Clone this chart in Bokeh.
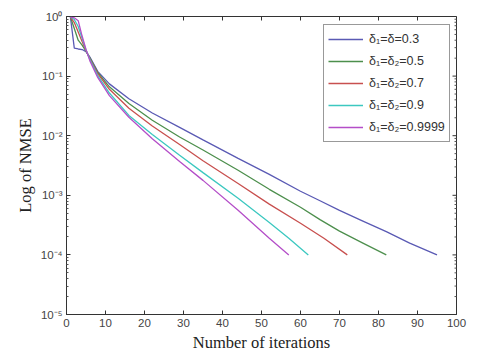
import math
from bokeh.plotting import figure
from bokeh.models import Legend, LegendItem, FixedTicker, CustomJSTickFormatter, Range1d
from bokeh.embed import file_html
from bokeh.resources import INLINE

# data (iteration, NMSE)
x_03 = [1, 2, 3, 4, 5, 6, 8, 11, 16, 22, 29, 35, 44, 52, 60, 65, 70, 76, 82, 88, 95]
y_03 = [0.98, 0.295, 0.285, 0.279, 0.257, 0.209, 0.120, 0.0741, 0.0417, 0.0240, 0.0138, 0.00851,
        0.00417, 0.00224, 0.00117, 8.1e-4, 5.6e-4, 3.7e-4, 2.45e-4, 1.58e-4, 1.0e-4]
x_05 = [1, 2, 3, 4, 5, 6, 8, 11, 16, 22, 29, 35, 44, 52, 60, 65, 70, 76, 82]
y_05 = [0.98, 0.63, 0.40, 0.33, 0.263, 0.20, 0.115, 0.066, 0.0347, 0.0182, 0.0095, 0.00575,
        0.00263, 0.00126, 6.3e-4, 3.9e-4, 2.5e-4, 1.58e-4, 1.0e-4]
x_07 = [1, 2, 3, 4, 5, 6, 8, 11, 16, 22, 29, 35, 44, 52, 60, 66, 72]
y_07 = [0.98, 0.79, 0.55, 0.38, 0.269, 0.195, 0.110, 0.060, 0.0288, 0.0145, 0.0071, 0.0038,
        0.00158, 7.1e-4, 3.4e-4, 1.9e-4, 1.0e-4]
x_09 = [1, 2, 3, 4, 5, 6, 8, 11, 16, 22, 29, 35, 44, 52, 57, 62]
y_09 = [0.98, 0.89, 0.68, 0.43, 0.275, 0.19, 0.102, 0.052, 0.0219, 0.0105, 0.0047, 0.0024,
        8.9e-4, 3.5e-4, 1.9e-4, 1.0e-4]
x_99 = [1, 2, 3, 4, 5, 6, 8, 11, 16, 22, 29, 35, 44, 52, 57]
y_99 = [0.98, 0.95, 0.85, 0.47, 0.28, 0.18, 0.095, 0.047, 0.0204, 0.0089, 0.0037, 0.00178,
        5.6e-4, 1.9e-4, 1.0e-4]

labels = ["δ₁=δ=0.3", "δ₁=δ₂=0.5", "δ₁=δ₂=0.7", "δ₁=δ₂=0.9", "δ₁=δ₂=0.9999"]
colors = ["#5a5ab4", "#4d8f4d", "#c8504f", "#3cc8c0", "#b44ec8"]
x_ticks = [0, 10, 20, 30, 40, 50, 60, 70, 80, 90, 100]
y_ticks = [1e-5, 1e-4, 1e-3, 1e-2, 1e-1, 1]
y_minor = [k * 10.0 ** e for e in range(-5, 0) for k in range(2, 10)]

p = figure(width=480, height=354, output_backend="svg", toolbar_location=None,
           y_axis_type="log", x_range=Range1d(0, 100), y_range=Range1d(1e-5, 1),
           min_border_left=66, min_border_right=24, min_border_top=16, min_border_bottom=39)
p.grid.visible = False
p.outline_line_color = "#333333"

series = [(x_03, y_03), (x_05, y_05), (x_07, y_07), (x_09, y_09), (x_99, y_99)]
items = []
for (xs, ys), c, lab in zip(series, colors, labels):
    r = p.line(xs, ys, line_color=c, line_width=1.3)
    items.append(LegendItem(label=lab, renderers=[r]))

# inward ticks on top and right edges (clipped to the frame)
x_hi = x_ticks[-1]
y_hi = y_ticks[-1]
p.scatter(x_ticks, [y_hi] * len(x_ticks), marker="dash", angle=math.pi / 2, size=8,
          line_color="#333333", line_width=1)
p.scatter([x_hi] * len(y_ticks), y_ticks, marker="dash", size=8, line_color="#333333", line_width=1)
p.scatter([x_hi] * len(y_minor), y_minor, marker="dash", size=4, line_color="#555555", line_width=1)

sup_fmt = CustomJSTickFormatter(code="""
const e = Math.round(Math.log10(tick));
const m = {'-':'⁻','0':'⁰','1':'¹','2':'²','3':'³','4':'⁴','5':'⁵','6':'⁶','7':'⁷','8':'⁸','9':'⁹'};
return '10' + String(e).split('').map(c => m[c]).join('');
""")

xa = p.xaxis[0]
ya = p.yaxis[0]
xa.ticker = FixedTicker(ticks=x_ticks)
ya.ticker = FixedTicker(ticks=y_ticks, minor_ticks=y_minor)
ya.formatter = sup_fmt

for ax in [xa, ya]:
    ax.major_tick_in = 4
    ax.major_tick_out = 0
    ax.minor_tick_in = 2
    ax.minor_tick_out = 0
    ax.axis_line_color = "#333333"
    ax.major_tick_line_color = "#333333"
    ax.minor_tick_line_color = "#555555"
    ax.major_label_text_font = "Liberation Sans"
    ax.major_label_text_color = "#444444"
    ax.major_label_text_font_size = "11.5px"
    ax.major_label_standoff = 4
    ax.axis_label_text_font = "Liberation Serif"
    ax.axis_label_text_font_style = "normal"
    ax.axis_label_text_font_size = "16.5px"
    ax.axis_label_text_color = "#222222"
    ax.axis_label_standoff = 3
xa.minor_tick_line_color = None
xa.axis_label = "Number of iterations"
ya.axis_label = "Log of NMSE"

legend = Legend(items=items, location="top_right", margin=0)
legend.glyph_width = 35
legend.glyph_height = 20
legend.label_height = 20
legend.spacing = 2
legend.padding = 4
legend.label_standoff = 6
legend.label_text_font = "Liberation Sans"
legend.label_text_font_size = "12.5px"
legend.label_text_color = "#333333"
legend.border_line_color = "#333333"
legend.background_fill_alpha = 1.0
p.add_layout(legend, "center")
legend.location = (257, 172)

open("out.html", "w").write(file_html(p, INLINE))
